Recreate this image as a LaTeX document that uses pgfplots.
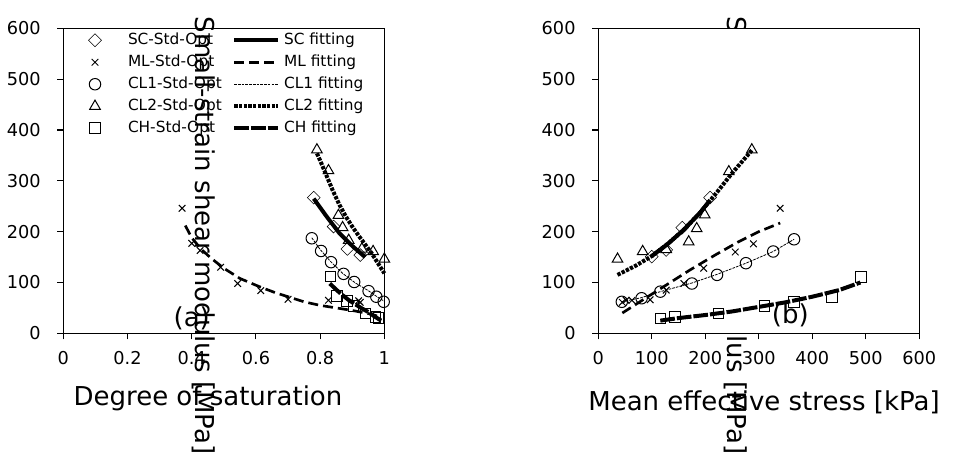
\documentclass[border=0pt]{standalone}
\usepackage{fontspec}
\setmainfont{DejaVu Sans}
\usepackage{pgfplots}
\pgfplotsset{compat=1.18}

\newcommand{\labfont}{\fontsize{19.5}{22}\selectfont}
\pgfplotsset{
  gpanel/.style={scale only axis, width=240.75pt, height=228.75pt, ymin=0, ymax=600, ytick={0,100,...,600},
    axis line style={line width=0.8pt}, tick style={line width=0.8pt, black}, tick align=outside, major tick length=4.5pt,
    xtick pos=bottom, ytick pos=left, tick label style={font=\fontsize{13.3}{15}\selectfont},
    xticklabel style={yshift=-5.5pt}, yticklabel style={xshift=-9pt},
    /pgf/number format/assume math mode=true, clip=false},
  dat/.style={black, only marks, mark options={line width=0.75pt, solid},
    legend image code/.code={\path[draw=none, fill=none] (0pt,0pt) -- (18pt,0pt); \draw[mark repeat=2,mark phase=2,##1] plot coordinates {(0pt,0pt) (9pt,0pt) (18pt,0pt)};}},
  fit/.style={black, no marks, legend image code/.code={\draw[##1] (0pt,0pt) -- (33pt,0pt);}},
  scd/.style={dat, mark=square, mark options={rotate=45}, mark size=3.4pt},
  mld/.style={dat, mark=x, mark size=3.5pt},
  cl1d/.style={dat, mark=o, mark size=4.3pt},
  cl2d/.style={dat, mark=triangle, mark size=4.6pt},
  chd/.style={dat, mark=square, mark size=4pt},
  scf/.style={fit, line width=3pt},
  mlf/.style={fit, line width=2pt, dash pattern=on 7.5pt off 3.75pt},
  cl1f/.style={fit, line width=0.6pt, dash pattern=on 2pt off 0.8pt},
  cl2f/.style={fit, line width=3pt, dash pattern=on 2.5pt off 1pt},
  chf/.style={fit, line width=3pt, dash pattern=on 11pt off 1.5pt},
}

\begin{document}
\begin{tikzpicture}
\useasboundingbox (0pt,0pt) rectangle (714.75pt,345pt);
% label of panel (b) sits behind its white plot area
\node[rotate=-90, font=\labfont] at (552pt,168.4pt) {Small-strain shear modulus [MPa]};

\begin{axis}[gpanel, at={(448.7pt,95pt)}, anchor=south west, axis background/.style={fill=white},
  xmin=0, xmax=600, xtick={0,100,...,600}]
\addplot[scd] coordinates {(100,151) (127,164) (157,208) (209,267)};
\addplot[scf] coordinates {(100,152) (130,176) (160,204) (190,237) (209,262)};
\addplot[mld] coordinates {(45,61) (52,65) (63,65) (97,66) (127,85) (160,98) (197,128) (256,160) (290,176) (340,246)};
\addplot[mlf] coordinates {(45,40) (100,77) (172,125) (220,155) (262,180) (300,200) (340,217)};
\addplot[cl1d] coordinates {(44,62) (81,69) (116,82) (175,98) (222,115) (276,138) (327,161) (366,185)};
\addplot[cl1f] coordinates {(44,62) (80,70) (116,82) (175,99) (222,116) (276,138) (327,161) (366,185)};
\addplot[cl2d] coordinates {(36,146) (83,161) (127,165) (169,180) (184,206) (199,233) (244,318) (287,361)};
\addplot[cl2f] coordinates {(36,115) (70,133) (100,152) (130,176) (160,204) (190,237) (220,275) (250,315) (287,360)};
\addplot[chd] coordinates {(116,29) (144,32) (225,39) (311,54) (366,62) (437,72) (491,111)};
\addplot[chf] coordinates {(116,25) (150,30) (200,36) (250,43) (300,52) (350,61) (400,72) (450,85) (490,100)};
\node[font=\labfont] at (axis cs:359,36) {(b)};
\end{axis}

\begin{axis}[gpanel, at={(47.5pt,95pt)}, anchor=south west,
  xmin=0, xmax=1, xtick={0,0.2,0.4,0.6,0.8,1}, xticklabels={0,0.2,0.4,0.6,0.8,1},
  legend columns=2,
  legend style={draw=none, fill=none, at={(0.0613,0.985)}, anchor=north west, inner sep=0pt, outer sep=0pt,
    font=\fontsize{11.5}{13}\selectfont, row sep=5.5pt, cells={anchor=west},
    nodes={inner sep=0pt, text height=8.5pt, text depth=2.5pt},
    /tikz/column 1/.style={column sep=15.75pt},
    /tikz/column 2/.style={column sep=7.8pt},
    /tikz/column 3/.style={column sep=3pt}}]
\addplot[scd] coordinates {(0.78,267) (0.842,210) (0.885,166) (0.925,154)};
\addlegendentry{SC-Std-Opt}
\addplot[scf] coordinates {(0.78,265) (0.82,230) (0.86,197) (0.90,172) (0.94,150)};
\addlegendentry{SC fitting}
\addplot[mld] coordinates {(0.37,246) (0.40,177) (0.426,163) (0.49,130) (0.543,98) (0.615,84) (0.70,67) (0.826,65) (0.92,64) (0.925,61)};
\addlegendentry{ML-Std-Opt}
\addplot[mlf] coordinates {(0.38,212) (0.40,188) (0.43,165) (0.46,148) (0.50,128) (0.55,108) (0.61,92) (0.66,80) (0.70,72) (0.75,62) (0.80,55) (0.85,50) (0.90,45) (0.95,39) (0.99,32)};
\addlegendentry{ML fitting}
\addplot[cl1d] coordinates {(0.774,187) (0.803,162) (0.834,140) (0.873,117) (0.906,101) (0.951,83) (0.975,72) (0.998,62)};
\addlegendentry{CL1-Std-Opt}
\addplot[cl1f] coordinates {(0.774,188) (0.80,165) (0.83,143) (0.87,118) (0.91,99) (0.95,84) (0.975,73) (1.0,63)};
\addlegendentry{CL1 fitting}
\addplot[cl2d] coordinates {(0.79,361) (0.826,320) (0.857,232) (0.87,208) (0.889,183) (0.93,166) (0.965,161) (1.0,146)};
\addlegendentry{CL2-Std-Opt}
\addplot[cl2f] coordinates {(0.79,354) (0.80,340) (0.82,310) (0.84,280) (0.86,253) (0.88,230) (0.90,210) (0.92,192) (0.94,175) (0.96,158) (0.98,138) (1.0,118)};
\addlegendentry{CL2 fitting}
\addplot[chd] coordinates {(0.832,112) (0.853,74) (0.884,64) (0.904,54) (0.941,39) (0.972,32) (0.982,30)};
\addlegendentry{CH-Std-Opt}
\addplot[chf] coordinates {(0.83,98) (0.85,86) (0.87,75) (0.89,65) (0.91,57) (0.93,49) (0.95,42) (0.97,33) (0.99,25)};
\addlegendentry{CH fitting}
\node[font=\labfont] at (axis cs:0.40,30) {(a)};
\end{axis}

\node[rotate=-90, font=\labfont] at (153pt,168.4pt) {Small-strain shear modulus [MPa]};
\node[anchor=base, font=\labfont] at (156pt,40.5pt) {Degree of saturation};
\node[anchor=base, font=\labfont] at (573pt,37pt) {Mean effective stress [kPa]};
\end{tikzpicture}
\end{document}
